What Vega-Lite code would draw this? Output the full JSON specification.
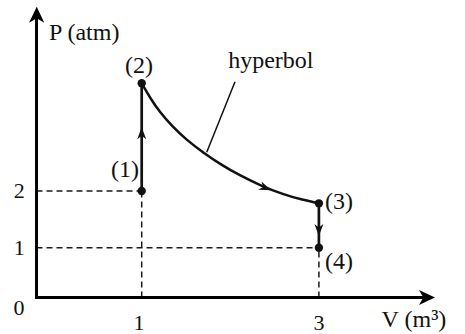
{
  "$schema": "https://vega.github.io/schema/vega-lite/v6.json",
  "width": 465,
  "height": 334,
  "padding": 0,
  "autosize": {"type": "none"},
  "background": "white",
  "config": {"view": {"stroke": null}},
  "datasets": {
    "dashes": [
      {"x": -0.187, "y": 2, "x2": 1, "y2": 2},
      {"x": -0.187, "y": 1, "x2": 3, "y2": 1},
      {"x": 1, "y": 0.122, "x2": 1, "y2": 2},
      {"x": 3, "y": 0.122, "x2": 3, "y2": 1}
    ],
    "axes": [
      {"x": -0.187, "y": 0.122, "x2": -0.187, "y2": 5.1},
      {"x": -0.187, "y": 0.122, "x2": 4.21, "y2": 0.122}
    ],
    "isochores": [
      {"x": 1, "y": 2, "x2": 1, "y2": 3.9},
      {"x": 3, "y": 1.783, "x2": 3, "y2": 1}
    ],
    "curve": [
      {"x": 1.0, "y": 3.9},
      {"x": 1.1, "y": 3.63},
      {"x": 1.2, "y": 3.4},
      {"x": 1.35, "y": 3.13},
      {"x": 1.5, "y": 2.91},
      {"x": 1.7, "y": 2.67},
      {"x": 1.9, "y": 2.46},
      {"x": 2.1, "y": 2.28},
      {"x": 2.35, "y": 2.09},
      {"x": 2.6, "y": 1.94},
      {"x": 2.8, "y": 1.85},
      {"x": 3.0, "y": 1.783}
    ],
    "leader": [
      {"x": 2.053, "y": 3.928, "x2": 1.734, "y2": 2.683}
    ],
    "states": [
      {"x": 1, "y": 2},
      {"x": 1, "y": 3.9},
      {"x": 3, "y": 1.783},
      {"x": 3, "y": 1}
    ],
    "arrowY": [{"x": -0.185, "y": 5.109}],
    "arrowX": [{"x": 4.22, "y": 0.122}],
    "arrowUp": [{"x": 1, "y": 3.018}],
    "arrowDown": [{"x": 3, "y": 1.312}],
    "arrowCurve": [{"x": 2.396, "y": 2.055}],
    "labels": [
      {"x": 0.8115, "y": 2.37, "label": "(1)"},
      {"x": 0.97, "y": 4.205, "label": "(2)"},
      {"x": 3.228, "y": 1.811, "label": "(3)"},
      {"x": 3.228, "y": 0.753, "label": "(4)"},
      {"x": 2.457, "y": 4.293, "label": "hyperbol"},
      {"x": 4.073, "y": -0.275, "label": "V (m³)"}
    ],
    "ylabel": [
      {"x": -0.046, "y": 4.787, "label": "P (atm)"}
    ],
    "ticks": [
      {"x": -0.383, "y": 1.995, "label": "2"},
      {"x": -0.383, "y": 0.995, "label": "1"},
      {"x": -0.385, "y": -0.063, "label": "0"},
      {"x": 0.97, "y": -0.328, "label": "1"},
      {"x": 3.0, "y": -0.328, "label": "3"}
    ]
  },
  "encoding": {
    "x": {"field": "x", "type": "quantitative", "scale": {"domain": [-0.5993, 4.649], "nice": false, "zero": false}, "axis": null},
    "y": {"field": "y", "type": "quantitative", "scale": {"domain": [-0.522, 5.369], "nice": false, "zero": false}, "axis": null}
  },
  "layer": [
    {
      "data": {"name": "dashes"},
      "mark": {"type": "rule", "color": "#1a1a1a", "strokeWidth": 1.5, "strokeDash": [6, 4]},
      "encoding": {"x2": {"field": "x2"}, "y2": {"field": "y2"}}
    },
    {
      "data": {"name": "axes"},
      "mark": {"type": "rule", "color": "black", "strokeWidth": 3, "strokeCap": "square"},
      "encoding": {"x2": {"field": "x2"}, "y2": {"field": "y2"}}
    },
    {
      "data": {"name": "isochores"},
      "mark": {"type": "rule", "color": "#111", "strokeWidth": 2.7},
      "encoding": {"x2": {"field": "x2"}, "y2": {"field": "y2"}}
    },
    {
      "data": {"name": "curve"},
      "mark": {"type": "line", "color": "#111", "strokeWidth": 2.5, "interpolate": "basis"},
      "encoding": {"order": {"field": "x", "type": "quantitative"}}
    },
    {
      "data": {"name": "leader"},
      "mark": {"type": "rule", "color": "#111", "strokeWidth": 1.5},
      "encoding": {"x2": {"field": "x2"}, "y2": {"field": "y2"}}
    },
    {
      "data": {"name": "states"},
      "mark": {"type": "point", "filled": true, "color": "#111", "size": 70, "opacity": 1}
    },
    {
      "data": {"name": "arrowY"},
      "mark": {"type": "point", "filled": true, "color": "black", "opacity": 1, "size": 256, "shape": "M0,-1 L0.95,1 L0,0.45 L-0.95,1 Z"}
    },
    {
      "data": {"name": "arrowX"},
      "mark": {"type": "point", "filled": true, "color": "black", "opacity": 1, "size": 256, "angle": 90, "shape": "M0,-1 L0.95,1 L0,0.45 L-0.95,1 Z"}
    },
    {
      "data": {"name": "arrowUp"},
      "mark": {"type": "point", "filled": true, "color": "#111", "opacity": 1, "size": 144, "shape": "M0,-1 L0.75,1 L0,0.4 L-0.75,1 Z"}
    },
    {
      "data": {"name": "arrowDown"},
      "mark": {"type": "point", "filled": true, "color": "#111", "opacity": 1, "size": 144, "angle": 180, "shape": "M0,-1 L0.75,1 L0,0.4 L-0.75,1 Z"}
    },
    {
      "data": {"name": "arrowCurve"},
      "mark": {"type": "point", "filled": true, "color": "#111", "opacity": 1, "size": 144, "angle": 112, "shape": "M0,-1 L0.75,1 L0,0.4 L-0.75,1 Z"}
    },
    {
      "data": {"name": "labels"},
      "mark": {"type": "text", "font": "Liberation Serif", "fontSize": 24, "color": "#111", "align": "center", "baseline": "middle"},
      "encoding": {"text": {"field": "label"}}
    },
    {
      "data": {"name": "ylabel"},
      "mark": {"type": "text", "font": "Liberation Serif", "fontSize": 24, "color": "#111", "align": "left", "baseline": "middle"},
      "encoding": {"text": {"field": "label"}}
    },
    {
      "data": {"name": "ticks"},
      "mark": {"type": "text", "font": "Liberation Serif", "fontSize": 22, "color": "#111", "align": "center", "baseline": "middle"},
      "encoding": {"text": {"field": "label"}}
    }
  ]
}
